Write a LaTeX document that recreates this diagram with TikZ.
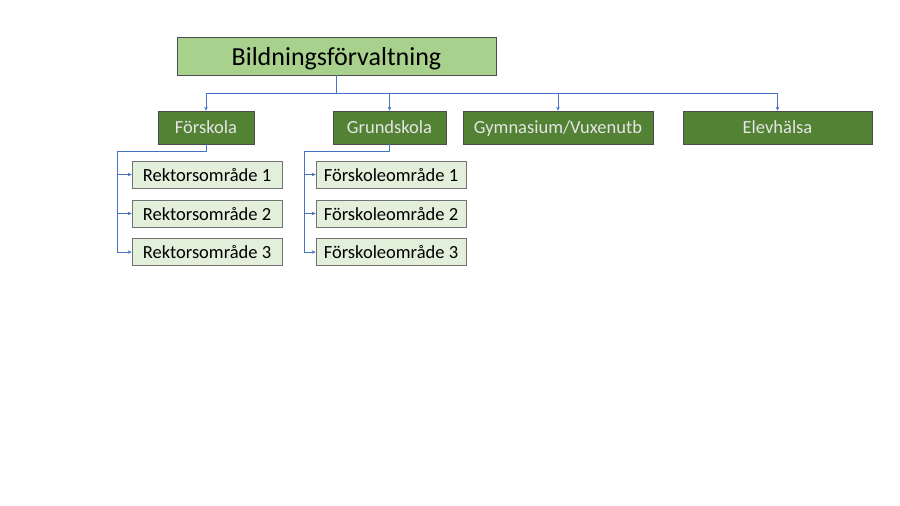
\documentclass[tikz,border=0pt]{standalone}
\usepackage{fontspec}
\setmainfont{Carlito}
\usetikzlibrary{arrows.meta,positioning,calc}
\definecolor{lightgreen}{HTML}{A9D18E}
\definecolor{darkgreen}{HTML}{548235}
\definecolor{palegreen}{HTML}{E2EFDA}
\definecolor{linkblue}{HTML}{4472C4}
\begin{document}
\begin{tikzpicture}[
  x=1pt, y=-1pt,
  >={Stealth[length=4pt,width=3.5pt]},
  top/.style={draw=black!70, fill=lightgreen, minimum width=319pt, minimum height=38pt, inner sep=0pt, text depth=0pt, font=\fontsize{26}{30}\selectfont, line width=0.6pt},
  dept/.style={draw=black!70, fill=darkgreen, text=white!90!black, minimum height=33pt, inner sep=0pt, text depth=0pt, font=\fontsize{18.5}{22}\selectfont, line width=0.6pt},
  unit/.style={draw=black!55, fill=palegreen, minimum width=150pt, minimum height=27pt, inner sep=0pt, text depth=0pt, font=\fontsize{18.5}{22}\selectfont, line width=0.6pt},
  link/.style={draw=linkblue, line width=0.6pt}]

\useasboundingbox (0,0) rectangle (900,506);

\node[top] (bf) at (336.5,56) {Bildningsförvaltning};

\node[dept, minimum width=96pt] (fsk) at (206,127.5) {Förskola};
\node[dept, minimum width=113pt] (gsk) at (389.5,127.5) {Grundskola};
\node[dept, minimum width=190pt] (gym) at (558,127.5) {Gymnasium/Vuxenutb};
\node[dept, minimum width=189pt] (eh) at (777.5,127.5) {Elevhälsa};

% bus from the top box
\coordinate (bus) at (336.5,93);
\draw[link] (bf.south) -- (bus);
\foreach \d in {fsk,gsk,gym,eh}
  \draw[link,->] (bus) -| (\d.north);

\foreach \i/\y in {1/174.5,2/213.5,3/252} {
  \node[unit] (r\i) at (207,\y) {Rektorsområde \i};
  \node[unit] (f\i) at (391,\y) {Förskoleområde \i};
}

% branches under Förskola and Grundskola
\coordinate (rt) at (117,151);
\coordinate (ft) at (304,151);
\draw[link] (fsk.south) |- (rt) -- (rt |- r3.west);
\draw[link] (gsk.south) |- (ft) -- (ft |- f3.west);
\foreach \i in {1,2,3} {
  \draw[link,->] (rt |- r\i.west) -- (r\i.west);
  \draw[link,->] (ft |- f\i.west) -- (f\i.west);
}

\end{tikzpicture}
\end{document}
